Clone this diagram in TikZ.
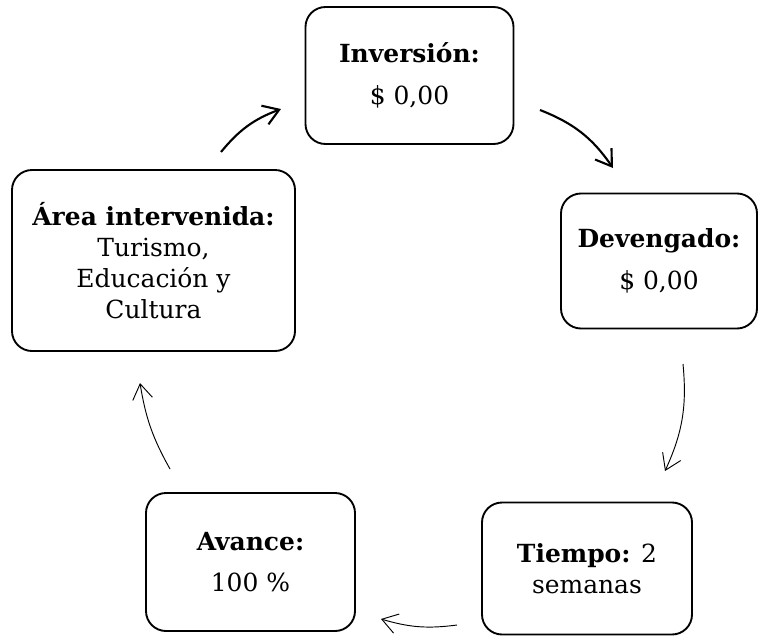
\documentclass[tikz,border=0pt]{standalone}
\usepackage{fontspec}
\setmainfont{DejaVu Serif}
\usetikzlibrary{arrows.meta, positioning}

\begin{document}
\begin{tikzpicture}[
    x=0.03cm, y=-0.03cm,
    box/.style={rectangle, draw, rounded corners=0.6cm, line width=1.6pt, align=center, font=\fontsize{21.3}{26.5}\selectfont},
    flow/.style={-{Straight Barb[length=13pt, width=17pt]}, line width=1.8pt},
    flowthin/.style={-{Straight Barb[length=13pt, width=17pt]}, line width=0.8pt}
]
\useasboundingbox (0,0) rectangle (758,636);

% Boxes
\node[box, minimum width=6.24cm, minimum height=4.11cm] (inversion) at (409.5, 75.5) {
    \textbf{Inversión:} \\[9pt]
    \$ 0,00
};

\node[box, minimum width=5.88cm, minimum height=4.05cm] (devengado) at (659, 261) {
    \textbf{Devengado:} \\[9pt]
    \$ 0,00
};

\node[box, minimum width=6.3cm, minimum height=3.96cm] (tiempo) at (587, 568.5) {
    \textbf{Tiempo:} 2 \\
    semanas
};

\node[box, minimum width=6.27cm, minimum height=4.14cm] (avance) at (250.5, 562) {
    \textbf{Avance:} \\[9pt]
    100 \%
};

\node[box, minimum width=8.49cm, minimum height=5.43cm] (area) at (153.5, 260.5) {
    \textbf{Área intervenida:} \\
    Turismo, \\
    Educación y \\
    Cultura
};

% Arrow ends
\coordinate (a1s) at (221, 152);
\coordinate (a1e) at (281, 109);
\coordinate (a2s) at (540, 110);
\coordinate (a2e) at (613, 168);
\coordinate (a3s) at (683, 364);
\coordinate (a3e) at (665, 471);
\coordinate (a4s) at (457, 625);
\coordinate (a4e) at (381, 619);
\coordinate (a5s) at (170, 469);
\coordinate (a5e) at (140, 383);

% Cycle
\draw[flow] (a1s) to[bend left=15] (a1e);
\draw[flow] (a2s) to[bend left=17] (a2e);
\draw[flowthin] (a3s) to[bend left=15] (a3e);
\draw[flowthin] (a4s) to[bend left=12] (a4e);
\draw[flowthin] (a5s) to[bend left=10] (a5e);

\end{tikzpicture}
\end{document}
